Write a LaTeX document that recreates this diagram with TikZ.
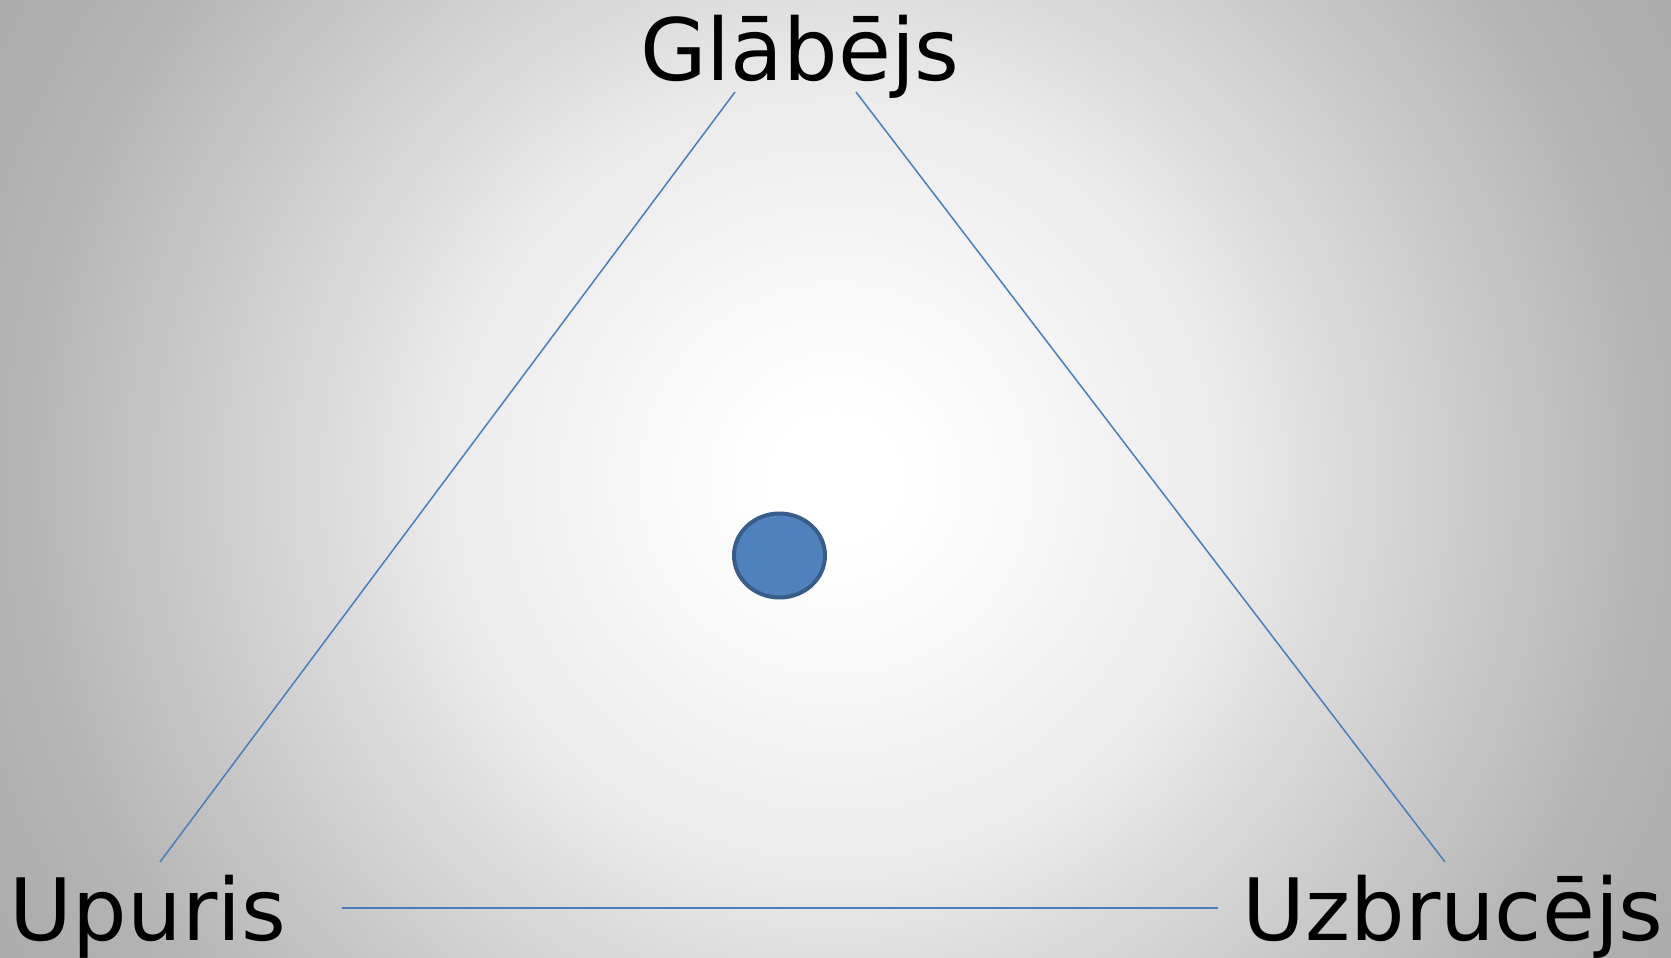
\documentclass[tikz,border=0pt]{standalone}
\usepackage{fontspec}
\setmainfont{DejaVu Sans}
\usetikzlibrary{shapes.geometric}
\definecolor{linkblue}{HTML}{4A7EBB}
\definecolor{dotfill}{HTML}{4F81BD}
\definecolor{dotedge}{HTML}{385D8A}
% radial background, stops in real size (1 unit = 0.5pt)
\pgfdeclareradialshading{glow}{\pgfpoint{0bp}{0bp}}{%
  color(0bp)=(white);
  color(30bp)=(white);
  color(100bp)=(black!3);
  color(196bp)=(black!8);
  color(251bp)=(black!14);
  color(403bp)=(black!29);
  color(480bp)=(black!33)}
\tikzset{role/.style={
    inner sep=0pt,
    anchor=base,
    font=\fontsize{43}{50}\selectfont
  },
  link/.style={linkblue,line width=0.75pt},
  dot/.style={ellipse,draw=dotedge,fill=dotfill,line width=2pt,
    minimum width=45.5pt,minimum height=42pt,inner sep=0pt},
}

\begin{document}
\begin{tikzpicture}[x=0.5pt,y=-0.5pt]
  \useasboundingbox (0,0) rectangle (1671,958);
  \begin{scope}
    \clip (0,0) rectangle (1671,958);
    \node [inner sep=0pt] (bg) at (835.5,479) {\pgfuseshading{glow}};
  \end{scope}
  \node [role] (glabejs) at (800,80) {Glābējs};
  \node [role] (upuris) at (148,940) {Upuris};
  \node [role] (uzbrucejs) at (1453,940) {Uzbrucējs};
  \node [dot] (centre) at (779.5,555.5) {};
  \coordinate (gl) at (735,92);
  \coordinate (gr) at (856,92);
  \coordinate (ut) at (160,862);
  \coordinate (ur) at (342,908);
  \coordinate (zt) at (1445,862);
  \coordinate (zl) at (1218,908);
  \draw[link] (gl) -- (ut);
  \draw[link] (gr) -- (zt);
  \draw[link] (ur) -- (zl);
\end{tikzpicture}
\end{document}
